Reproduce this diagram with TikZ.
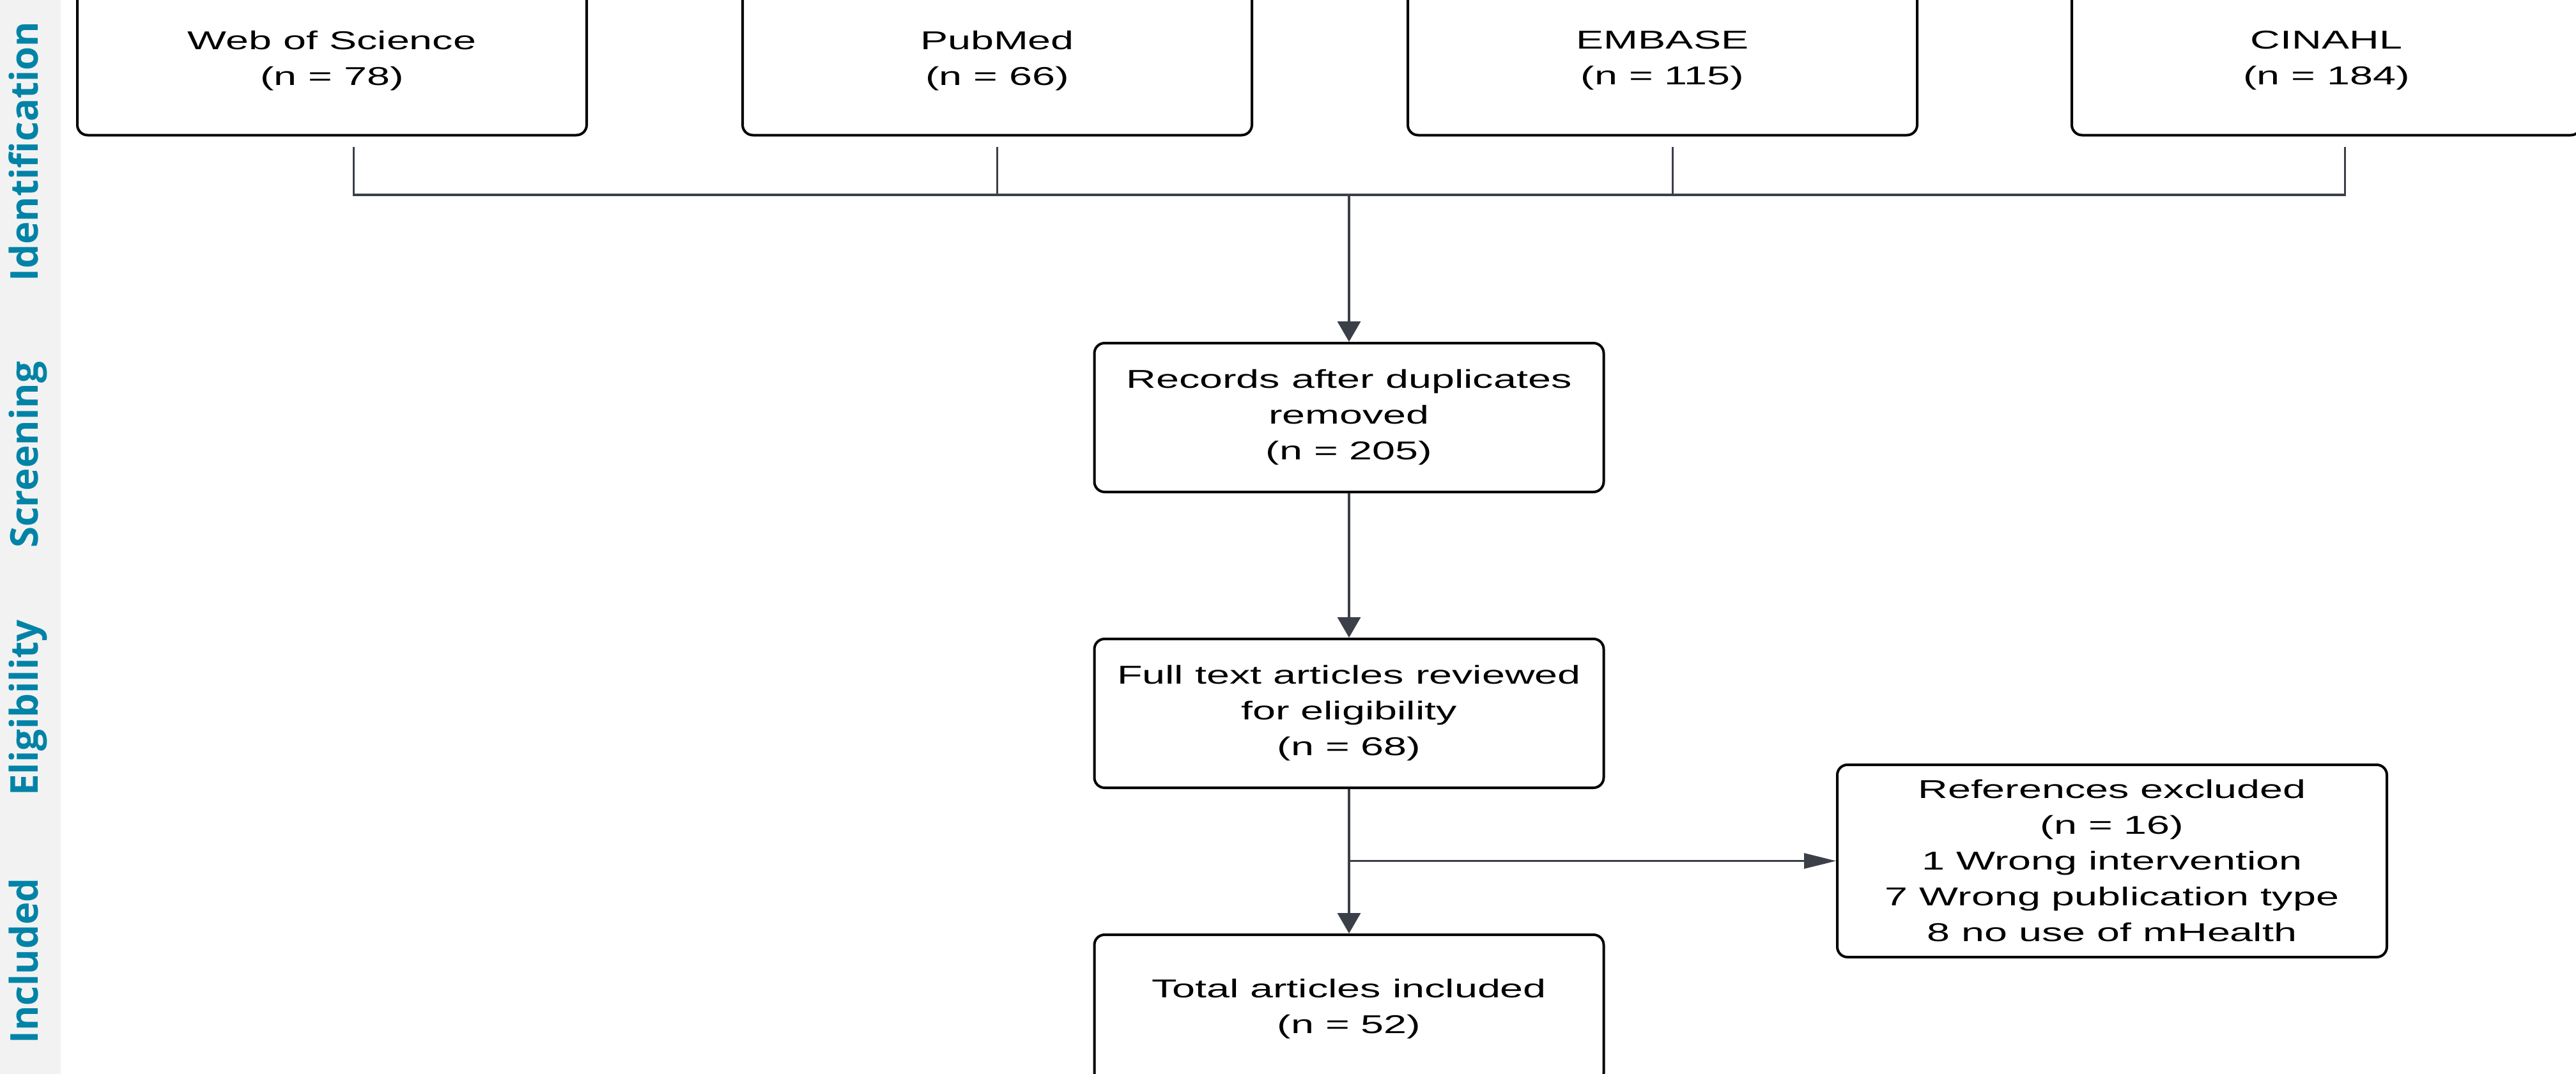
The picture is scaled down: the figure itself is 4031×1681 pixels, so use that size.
\documentclass[tikz,border=0pt]{standalone}
\usepackage{fontspec}
\setmainfont{Liberation Sans}
\newfontfamily\boxfont[FakeStretch=1.6]{Liberation Sans}
\newfontfamily\phasefont{Open Sans}
\usepackage{tikz}
\usetikzlibrary{arrows.meta,calc,backgrounds}
\definecolor{phaseblue}{RGB}{0,131,166}
\definecolor{bandgray}{RGB}{242,242,242}
\definecolor{linegray}{RGB}{59,64,72}

\tikzset{
  box/.style={draw=black, line width=1pt, rounded corners=4pt, fill=white,
    minimum width=199.25pt, minimum height=58.25pt, inner sep=0pt, align=center,
    font=\boxfont\fontsize{10.1}{14}\selectfont},
  exclbox/.style={box, minimum width=215pt, minimum height=75.25pt},
  conn/.style={draw=linegray, line width=0.9pt},
  downarrow/.style={conn, -{Triangle[width=9pt,length=8pt]}},
  sidearrow/.style={conn, line width=0.7pt, -{Triangle[width=6pt,length=12.5pt]}},
  phase/.style={rotate=90, anchor=base, text=phaseblue,
    font=\phasefont\bfseries\fontsize{15}{18}\selectfont}
}

\begin{document}
\begin{tikzpicture}[x=0.25pt, y=-0.25pt]
\useasboundingbox (0,0) rectangle (4031,1681);
\fill[white] (0,0) rectangle (4031,1681);
\fill[bandgray] (0,0) rectangle (95,1681);

% phases
\node[phase] (phaseid) at (60,237) {Identification};
\node[phase] (phasescr) at (60,712) {Screening};
\node[phase] (phaseelig) at (60,1108) {Eligibility};
\node[phase] (phaseinc) at (60,1504) {Included};

% databases
\node[box] (wos) at (519.5,95) {Web of Science\\(n = 78)};
\node[box] (pubmed) at (1560.5,95) {PubMed\\(n = 66)};
\node[box] (embase) at (2601.5,95) {EMBASE\\(n = 115)};
\node[box] (cinahl) at (3640.5,95) {CINAHL\\(n = 184)};

% flow
\node[box] (records) at (2111,653.5) {Records after duplicates\\removed\\(n = 205)};
\node[box] (fulltext) at (2111,1116.5) {Full text articles reviewed\\for eligibility\\(n = 68)};
\node[exclbox] (excluded) at (3305,1347.5) {References excluded\\(n = 16)\\1 Wrong intervention\\7 Wrong publication type\\8 no use of mHealth};
\node[box] (included) at (2111,1579.5) {Total articles included\\(n = 52)};

\coordinate (hbar) at (0,305);
\coordinate (d1) at ($(wos.south)+(34,16)$);
\coordinate (d2) at ($(pubmed.south)+(0,16)$);
\coordinate (d3) at ($(embase.south)+(16,16)$);
\coordinate (d4) at ($(cinahl.south)+(29,16)$);
\coordinate (split) at (fulltext.south |- excluded.west);

\draw[conn] (d1) |- (hbar -| d4) -- (d4);
\draw[conn] (d2) -- (d2 |- hbar);
\draw[conn] (d3) -- (d3 |- hbar);
\draw[downarrow] (records.north |- hbar) -- (records);
\draw[downarrow] (records) -- (fulltext);
\draw[downarrow] (fulltext) -- (included);
\draw[sidearrow] (split) -- (excluded);
\end{tikzpicture}
\end{document}
